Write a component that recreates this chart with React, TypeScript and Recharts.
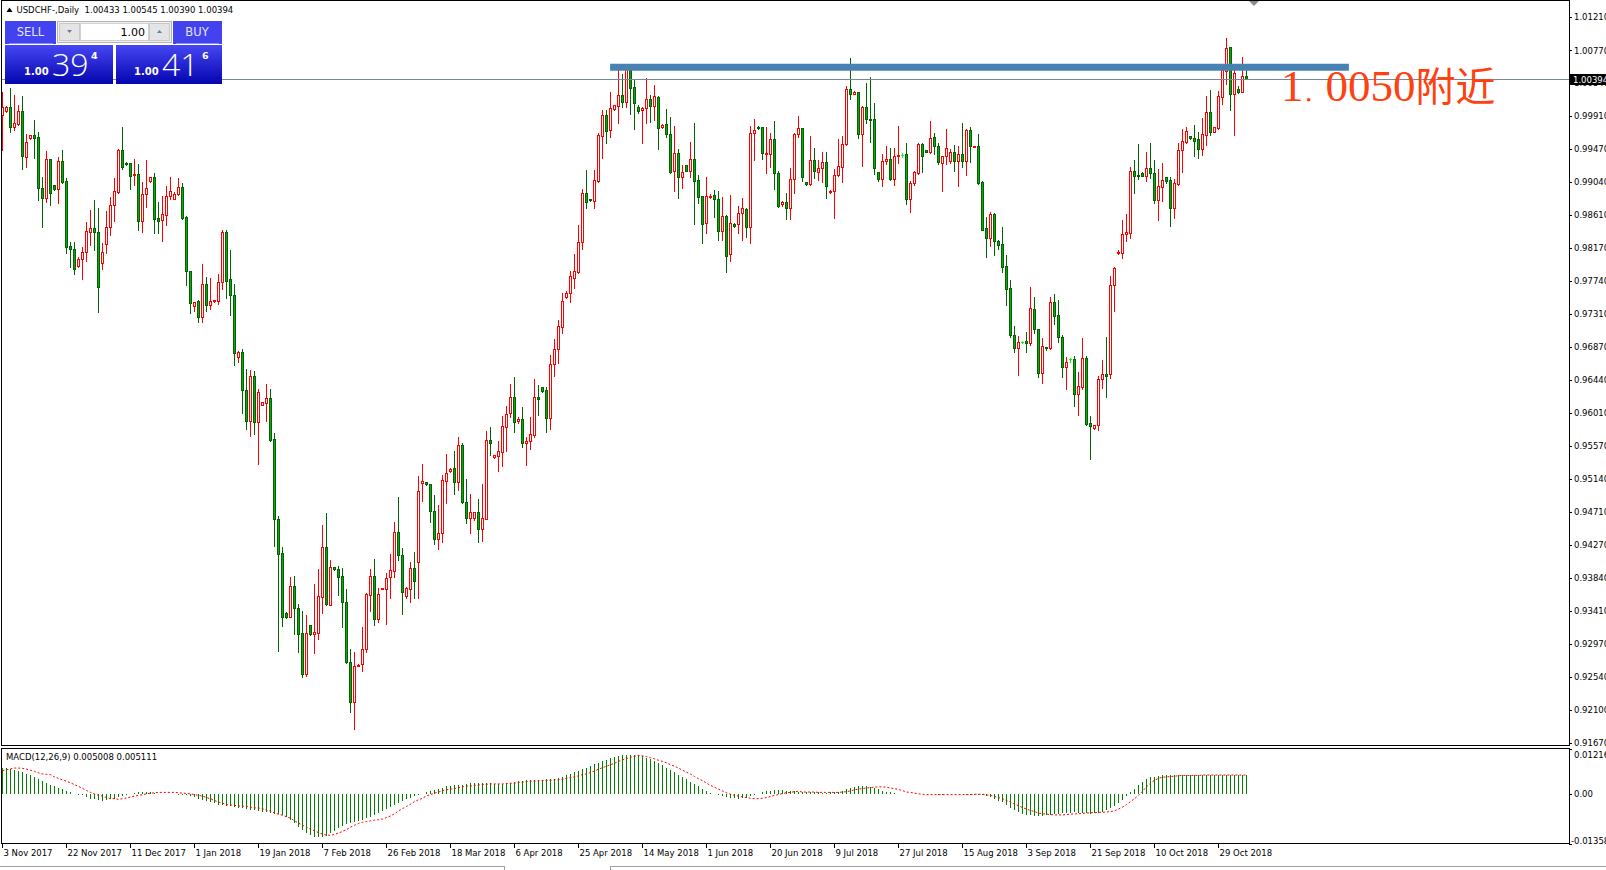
import React from 'react';
import { ComposedChart, Bar, Line, XAxis, YAxis, ReferenceLine } from 'recharts';

// ---- OHLC data (one bar per trading session, 3 Nov 2017 .. 7 Nov 2018) ----
const opens = [
0.99923,0.9998,1.00023,0.99761,0.99804,0.99975,0.99375,0.99625,0.99656,0.99634,
0.98959,0.98836,0.9934,0.98999,0.98946,0.99318,0.99051,0.98197,0.98158,0.97943,
0.98026,0.98118,0.9839,0.98434,0.98381,0.97982,0.98228,0.98447,0.98736,0.98915,
0.99458,0.99288,0.99288,0.9913,0.99143,0.98534,0.98885,0.99055,0.99104,0.98569,
0.98543,0.98613,0.98858,0.98819,0.98889,0.98972,0.98582,0.97868,0.97417,0.97479,
0.97273,0.97696,0.97432,0.97472,0.97481,0.97723,0.98391,0.97764,0.97553,0.96745,
0.96808,0.96311,0.95907,0.96499,0.95885,0.96117,0.96141,0.96203,0.9566,0.94619,
0.94163,0.93373,0.93328,0.93732,0.93449,0.93113,0.92575,0.93217,0.93104,0.93113,
0.93592,0.94244,0.93485,0.93978,0.93956,0.93862,0.93517,0.9274,0.92203,0.92687,
0.92709,0.92912,0.9362,0.93862,0.93306,0.93692,0.93696,0.93854,0.93934,0.9444,
0.94135,0.93607,0.93696,0.93965,0.94055,0.95082,0.95095,0.95073,0.94714,0.94346,
0.94425,0.95117,0.95248,0.95279,0.95104,0.95586,0.94841,0.94631,0.94622,0.94701,
0.94482,0.94613,0.95651,0.95424,0.95441,0.95498,0.95827,0.96002,0.96212,0.95905,
0.95923,0.95608,0.95634,0.95721,0.96212,0.96344,0.96309,0.95936,0.96646,0.96843,
0.97141,0.97531,0.97579,0.97784,0.97863,0.98249,0.98893,0.98814,0.98796,0.99059,
0.9965,0.99922,0.99725,0.99996,1.00045,1.00185,1.00097,1.00544,1.0029,1.00031,
0.99988,1.00009,1.00128,1.00045,1.00154,0.9977,0.99804,0.99668,0.9919,0.99418,
0.99112,0.99261,0.9919,0.99339,0.99068,0.98858,0.98498,0.98849,0.98866,0.98814,
0.98402,0.98595,0.98091,0.98485,0.98485,0.9863,0.98687,0.98455,0.99681,0.99769,
0.9976,0.99405,0.99405,0.99602,0.99155,0.98752,0.98783,0.98696,0.99077,0.99668,
0.99747,0.99042,0.99011,0.9933,0.99177,0.99221,0.993,0.98906,0.98923,0.99129,
0.99243,0.99537,1.00259,1.00198,1.0022,0.99668,1.00023,0.99874,0.99865,0.99173,
0.99085,0.99318,0.9934,0.99085,0.99388,0.99396,0.99405,0.98814,0.99024,0.9916,
0.99541,0.99462,0.9944,0.99633,0.9951,0.99296,0.99388,0.99318,0.99431,0.99322,
0.9941,0.99322,0.99725,0.99506,0.99515,0.99037,0.98433,0.9831,0.98617,0.98271,
0.98223,0.97938,0.97644,0.9703,0.96856,0.96939,0.96952,0.96922,0.97369,0.97106,
0.96528,0.96869,0.96856,0.9746,0.97294,0.97009,0.96615,0.96711,0.96716,0.96252,
0.96344,0.96725,0.95871,0.95805,0.95849,0.96449,0.96519,0.96515,0.97688,0.98104,
0.98113,0.98354,0.98376,0.99186,0.99134,0.99164,0.99125,0.99226,0.99156,0.98805,
0.9898,0.99103,0.99068,0.98696,0.99015,0.99462,0.99572,0.99646,0.99624,0.99602,
0.99471,0.99664,0.99961,0.99703,0.99747,1.00163,1.00505,1.00811,1.00202,1.00264,
1.00229,1.00433];

const highs = [
1.00229,1.0004,1.00273,1.00186,1.00054,1.00172,0.99669,0.9966,0.99857,0.99704,
0.99104,0.9945,0.99345,0.99003,0.99366,0.99463,0.99095,0.98258,0.98258,0.98052,
0.98193,0.98512,0.98674,0.98806,0.98705,0.98236,0.98666,0.9885,0.99099,0.99472,
0.99761,0.99305,0.99292,0.9934,0.99279,0.99042,0.99331,0.99112,0.99156,0.98784,
0.98858,0.9899,0.99104,0.98911,0.99091,0.99025,0.98596,0.97872,0.9747,0.9749,
0.97965,0.97796,0.97786,0.97494,0.97835,0.98414,0.98414,0.9815,0.97701,0.96822,
0.96844,0.9658,0.96566,0.96552,0.96319,0.9615,0.96387,0.96319,0.9575,0.94651,
0.94244,0.9339,0.93848,0.93862,0.93494,0.93404,0.93347,0.93225,0.93763,0.93956,
0.94534,0.94692,0.94073,0.93983,0.93997,0.93974,0.93692,0.92902,0.92866,0.92706,
0.93194,0.93643,0.93956,0.94086,0.93705,0.9371,0.93898,0.94154,0.94579,0.94902,
0.94229,0.93718,0.94055,0.9418,0.95185,0.95336,0.951,0.95078,0.94929,0.94797,
0.95191,0.95467,0.95279,0.95507,0.95686,0.95608,0.95135,0.94942,0.9471,0.94876,
0.95073,0.9577,0.95818,0.95458,0.95638,0.95971,0.96098,0.96387,0.96479,0.95949,
0.96085,0.95686,0.95953,0.96449,0.96374,0.96352,0.96348,0.96768,0.96979,0.97228,
0.97587,0.97614,0.97876,0.98095,0.98476,0.98945,0.99199,0.98818,0.99199,0.9969,
0.99988,0.99988,1.00229,1.00053,1.00548,1.0046,1.00557,1.00557,1.0039,1.00053,
1.00031,1.00404,1.00185,1.00316,1.00172,0.99804,0.99996,0.999,0.99777,0.99471,
0.99265,0.99265,0.99567,0.99812,0.99134,0.98862,0.99107,0.98884,0.98937,0.98928,
0.98849,0.98608,0.98871,0.98498,0.98726,0.98827,0.98705,0.99777,0.99865,0.99777,
0.99764,0.9976,0.99681,0.99843,0.99186,0.98792,0.98893,0.9923,0.9969,0.99909,
0.99755,0.99046,0.99646,0.99484,0.9933,0.99431,0.99431,0.98937,0.99208,0.99602,
0.99646,1.00303,1.00667,1.00242,1.00224,1.0004,1.00347,1.00417,1.00084,0.99177,
0.9941,0.99519,0.99484,0.99484,0.99777,0.99418,0.9955,0.99059,0.99186,0.99558,
0.99558,0.99466,0.99843,0.99681,0.9955,0.99388,0.99738,0.99475,0.99528,0.99515,
0.99812,0.99738,0.9976,0.99519,0.99672,0.99059,0.98586,0.98643,0.9863,0.9828,
0.98446,0.98082,0.97754,0.97149,0.97018,0.96952,0.97066,0.97667,0.97535,0.9711,
0.96988,0.96878,0.97535,0.97566,0.97491,0.97031,0.96738,0.96734,0.96755,0.96549,
0.96996,0.96755,0.95967,0.95849,0.96497,0.96703,0.97009,0.97806,0.97929,0.98148,
0.98542,0.98621,0.99243,0.99331,0.99541,0.99168,0.9944,0.9955,0.99331,0.99213,
0.99287,0.99112,0.99112,0.99077,0.99559,0.99738,0.9976,0.9965,0.9979,0.99703,
0.99878,1.0017,1.00251,0.99768,1.00238,1.00557,1.00929,1.00815,1.00522,1.00303,
1.0068,1.00545];

const lows = [
0.99463,0.99967,0.99704,0.99726,0.99791,0.99209,0.99244,0.99607,0.99353,0.98806,
0.98447,0.98784,0.9874,0.98942,0.98771,0.99025,0.98105,0.9793,0.97833,0.9793,
0.97772,0.98009,0.98215,0.98149,0.97339,0.97899,0.98105,0.98346,0.98534,0.98902,
0.99218,0.99266,0.9895,0.99003,0.98412,0.9839,0.98718,0.99047,0.98377,0.98377,
0.98271,0.98477,0.98815,0.98815,0.98867,0.9856,0.97689,0.97325,0.97352,0.97207,
0.97207,0.97347,0.97374,0.97468,0.97441,0.97634,0.97517,0.97293,0.96643,0.96678,
0.96006,0.95799,0.95705,0.95727,0.95342,0.9611,0.95902,0.95638,0.94257,0.9288,
0.93212,0.93311,0.93326,0.931,0.92866,0.92539,0.92552,0.93091,0.92853,0.93036,
0.93383,0.93481,0.93485,0.93948,0.93615,0.93198,0.92718,0.92081,0.91857,0.92682,
0.92611,0.92866,0.93405,0.93225,0.93262,0.93688,0.93238,0.93571,0.93854,0.94078,
0.93368,0.9358,0.93517,0.93575,0.93571,0.94854,0.95065,0.94578,0.9428,0.94224,
0.94315,0.94828,0.95235,0.94938,0.94994,0.94819,0.94565,0.94434,0.946,0.94315,
0.94329,0.94613,0.95454,0.9542,0.95248,0.9531,0.95511,0.95958,0.95761,0.95871,
0.95564,0.95323,0.95538,0.95686,0.9598,0.96287,0.95761,0.95792,0.96492,0.96659,
0.97062,0.97522,0.9746,0.97653,0.9785,0.98157,0.98704,0.98797,0.98704,0.99046,
0.99352,0.9955,0.99637,0.99992,0.99821,1.00023,1.00023,0.99931,0.99742,0.99952,
0.99558,0.99821,0.99834,0.99856,0.99475,0.99755,0.99637,0.99164,0.98928,0.98836,
0.98962,0.99186,0.99112,0.9849,0.9877,0.98244,0.98376,0.98836,0.98586,0.9828,
0.9828,0.97863,0.98008,0.98455,0.98376,0.9828,0.98323,0.98236,0.99331,0.99738,
0.99348,0.99164,0.99234,0.9895,0.98717,0.98726,0.98551,0.98555,0.98901,0.99637,
0.99059,0.99007,0.99007,0.99099,0.99068,0.99046,0.98827,0.98902,0.98564,0.9912,
0.99042,0.99528,1.00128,1.00194,0.99615,0.99256,0.99821,0.99572,0.99142,0.9906,
0.98993,0.99274,0.99068,0.99002,0.99287,0.99366,0.98753,0.98652,0.99002,0.99147,
0.9917,0.99436,0.99418,0.9941,0.99278,0.98928,0.99278,0.99287,0.9919,0.98989,
0.99234,0.99134,0.99309,0.99501,0.99011,0.98406,0.9806,0.98205,0.98082,0.98157,
0.97864,0.97425,0.97009,0.96812,0.96506,0.96922,0.96812,0.969,0.97062,0.96484,
0.96396,0.96834,0.96852,0.97176,0.96944,0.96484,0.96322,0.96681,0.96098,0.9598,
0.96322,0.95849,0.95402,0.958,0.95783,0.96339,0.96221,0.96471,0.97347,0.981,
0.98047,0.98271,0.98302,0.98902,0.99086,0.9912,0.99059,0.99099,0.98761,0.98542,
0.98797,0.99024,0.98464,0.98564,0.99002,0.99178,0.9955,0.99611,0.99383,0.99357,
0.99397,0.99528,0.99659,0.99699,0.99734,1.00067,1.00329,0.99988,0.99659,1.00207,
1.00225,1.0039];

const closes = [
1.00023,1.00023,0.99761,0.99822,0.99975,0.99388,0.99564,0.99656,0.99625,0.98959,
0.98836,0.9934,0.98893,0.98946,0.99318,0.99038,0.98193,0.98158,0.97895,0.98031,
0.98118,0.98394,0.98434,0.9839,0.97658,0.98118,0.98447,0.9874,0.9892,0.99458,
0.99244,0.99279,0.99126,0.99143,0.98534,0.9888,0.98959,0.99104,0.98552,0.98534,
0.98617,0.98863,0.9892,0.98889,0.98972,0.98574,0.97868,0.97457,0.97461,0.97273,
0.97698,0.97432,0.97472,0.9749,0.97728,0.98391,0.97745,0.97553,0.9679,0.96808,
0.96311,0.95907,0.96499,0.95885,0.96279,0.96145,0.96203,0.95656,0.94615,0.94158,
0.93328,0.93328,0.93732,0.93449,0.93104,0.92575,0.93122,0.931,0.93127,0.93602,
0.94244,0.93494,0.93978,0.93952,0.93854,0.93517,0.92731,0.92203,0.92687,0.927,
0.92912,0.93629,0.93862,0.93306,0.93629,0.93705,0.93844,0.93943,0.9444,0.94135,
0.9366,0.93705,0.93965,0.93803,0.94988,0.95113,0.95069,0.94713,0.94346,0.94425,
0.95126,0.95213,0.95266,0.95104,0.95586,0.94832,0.94631,0.94701,0.94701,0.94482,
0.94622,0.95651,0.95608,0.95454,0.95507,0.95835,0.95993,0.96212,0.95892,0.95923,
0.95608,0.95643,0.9573,0.96212,0.96186,0.96296,0.95936,0.96646,0.96843,0.9715,
0.97478,0.97579,0.97806,0.97872,0.98249,0.98893,0.98783,0.98801,0.99068,0.99655,
0.99922,0.99716,1.0001,1.00049,1.00185,1.00097,1.00544,1.0028,1.00075,0.99979,
1.00018,1.00128,1.00045,1.00172,0.99755,0.99791,0.99668,0.99177,0.99418,0.99112,
0.99173,0.9919,0.99339,0.99059,0.98849,0.98485,0.98858,0.98862,0.98814,0.98402,
0.98595,0.98074,0.98498,0.98468,0.9863,0.98696,0.98446,0.99681,0.99725,0.99747,
0.99418,0.99418,0.99602,0.99155,0.98726,0.98783,0.98696,0.99077,0.99672,0.99747,
0.99112,0.99011,0.9933,0.99186,0.99221,0.993,0.98989,0.98928,0.99129,0.99252,
0.99537,1.00259,1.00194,1.0022,0.99668,1.00023,0.99865,0.99861,0.99221,0.99077,
0.99318,0.99344,0.99085,0.99383,0.99401,0.99396,0.98814,0.99033,0.99173,0.99541,
0.99388,0.9944,0.99624,0.9951,0.99309,0.99383,0.99484,0.99431,0.99322,0.9941,
0.99322,0.99725,0.99519,0.99515,0.99024,0.98411,0.9831,0.98617,0.98271,0.98214,
0.97929,0.97631,0.9703,0.96856,0.96935,0.96939,0.96922,0.97382,0.97106,0.96528,
0.96887,0.96856,0.9746,0.97285,0.97009,0.96615,0.96672,0.96711,0.96252,0.96361,
0.96725,0.95862,0.9584,0.95844,0.96453,0.96515,0.96497,0.97688,0.97907,0.98126,
0.98358,0.98389,0.99186,0.99125,0.9912,0.99125,0.99226,0.99156,0.98805,0.98989,
0.99068,0.99059,0.98696,0.99024,0.99462,0.9958,0.99712,0.99615,0.99585,0.99471,
0.99672,0.99961,0.99694,0.99764,1.00176,1.00513,1.00798,1.00202,1.0047,1.00229,
1.0043,1.00394];

// ---- MACD(12,26,9): main (histogram) and signal ----
const macdMain = [
0.0070,0.0070,0.0068,0.0066,0.0063,0.0060,0.0055,0.0050,0.0045,0.0039,
0.0034,0.0029,0.0024,0.0020,0.0016,0.0012,0.0007,0.0004,0.0001,-0.0002,
-0.0004,-0.0009,-0.0013,-0.0015,-0.0017,-0.0018,-0.0017,-0.0015,-0.0013,-0.0009,
-0.0005,-0.0002,0.0001,0.0003,0.0004,0.0005,0.0004,0.0004,0.0002,0.0001,
0,0,-0.0001,-0.0001,-0.0002,-0.0003,-0.0004,-0.0006,-0.0009,-0.0013,
-0.0016,-0.0020,-0.0023,-0.0026,-0.0029,-0.0030,-0.0032,-0.0034,-0.0036,-0.0038,
-0.0039,-0.0041,-0.0043,-0.0045,-0.0046,-0.0048,-0.0050,-0.0052,-0.0054,-0.0055,
-0.0057,-0.0063,-0.0071,-0.0080,-0.0089,-0.0098,-0.0105,-0.0112,-0.0116,-0.0118,
-0.0116,-0.0113,-0.0107,-0.0100,-0.0093,-0.0087,-0.0082,-0.0079,-0.0076,-0.0073,
-0.0070,-0.0066,-0.0063,-0.0057,-0.0052,-0.0046,-0.0041,-0.0036,-0.0030,-0.0025,
-0.0020,-0.0015,-0.0011,-0.0007,-0.0004,0,0.0004,0.0007,0.0011,0.0014,
0.0017,0.0020,0.0021,0.0023,0.0024,0.0025,0.0027,0.0029,0.0029,0.0030,
0.0030,0.0029,0.0029,0.0027,0.0026,0.0027,0.0029,0.0030,0.0032,0.0034,
0.0036,0.0037,0.0038,0.0038,0.0038,0.0038,0.0039,0.0040,0.0041,0.0043,
0.0046,0.0050,0.0054,0.0058,0.0063,0.0067,0.0071,0.0076,0.0080,0.0085,
0.0089,0.0093,0.0096,0.0099,0.0102,0.0104,0.0104,0.0105,0.0105,0.0104,
0.0102,0.0098,0.0094,0.0088,0.0083,0.0077,0.0071,0.0064,0.0058,0.0052,
0.0046,0.0039,0.0033,0.0027,0.0021,0.0014,0.0008,0.0003,-0.0001,-0.0004,
-0.0006,-0.0009,-0.0011,-0.0012,-0.0013,-0.0012,-0.0010,-0.0007,-0.0004,0,
0.0004,0.0007,0.0009,0.0010,0.0011,0.0010,0.0009,0.0008,0.0007,0.0006,
0.0005,0.0004,0.0004,0.0004,0.0004,0.0003,0.0003,0.0004,0.0004,0.0005,
0.0008,0.0012,0.0015,0.0018,0.0020,0.0021,0.0021,0.0019,0.0016,0.0013,
0.0009,0.0005,0.0004,0.0002,0.0001,0,-0.0001,-0.0001,-0.0001,-0.0001,
-0.0001,-0.0001,-0.0001,-0.0001,-0.0002,-0.0002,-0.0001,-0.0001,-0.0001,0,
-0.0001,-0.0002,-0.0002,-0.0002,-0.0003,-0.0004,-0.0006,-0.0009,-0.0013,-0.0018,
-0.0023,-0.0030,-0.0038,-0.0044,-0.0049,-0.0054,-0.0056,-0.0058,-0.0059,-0.0059,
-0.0059,-0.0058,-0.0057,-0.0055,-0.0054,-0.0052,-0.0051,-0.0051,-0.0050,-0.0051,
-0.0052,-0.0053,-0.0054,-0.0053,-0.0051,-0.0048,-0.0045,-0.0039,-0.0032,-0.0025,
-0.0016,-0.0006,0.0004,0.0013,0.0023,0.0032,0.0039,0.0045,0.0047,0.0049,
0.0050,0.0050,0.0051,0.0051,0.0051,0.0051,0.0051,0.0051,0.0051,0.0051,
0.0051,0.0051,0.0051,0.0050,0.0050,0.0051,0.0051,0.0050,0.0050,0.0050,
0.0050,0.0050];

const macdSignal = [
0.0063,0.0065,0.0068,0.0070,0.0070,0.0069,0.0067,0.0064,0.0061,0.0057,
0.0054,0.0053,0.0052,0.0046,0.0042,0.0038,0.0034,0.0030,0.0025,0.0020,
0.0015,0.0009,0.0004,0,-0.0004,-0.0006,-0.0010,-0.0013,-0.0013,-0.0015,
-0.0013,-0.0011,-0.0009,-0.0006,-0.0004,-0.0002,0,0.0002,0.0003,0.0004,
0.0004,0.0004,0.0004,0.0004,0.0003,0.0002,0.0001,0,-0.0002,-0.0004,
-0.0006,-0.0010,-0.0013,-0.0018,-0.0022,-0.0025,-0.0029,-0.0030,-0.0031,-0.0033,
-0.0033,-0.0034,-0.0036,-0.0038,-0.0038,-0.0040,-0.0044,-0.0047,-0.0052,-0.0055,
-0.0058,-0.0062,-0.0066,-0.0073,-0.0079,-0.0085,-0.0090,-0.0096,-0.0100,-0.0105,
-0.0109,-0.0112,-0.0112,-0.0110,-0.0106,-0.0102,-0.0097,-0.0090,-0.0085,-0.0080,
-0.0077,-0.0075,-0.0073,-0.0071,-0.0070,-0.0068,-0.0064,-0.0060,-0.0054,-0.0046,
-0.0040,-0.0034,-0.0028,-0.0021,-0.0016,-0.0012,-0.0005,-0.0002,0.0002,0.0005,
0.0008,0.0011,0.0013,0.0014,0.0017,0.0019,0.0021,0.0021,0.0023,0.0024,
0.0025,0.0026,0.0027,0.0027,0.0027,0.0027,0.0028,0.0029,0.0029,0.0031,
0.0032,0.0033,0.0034,0.0035,0.0035,0.0036,0.0036,0.0037,0.0038,0.0038,
0.0040,0.0042,0.0044,0.0046,0.0049,0.0052,0.0054,0.0058,0.0062,0.0067,
0.0071,0.0075,0.0079,0.0083,0.0088,0.0092,0.0096,0.0099,0.0102,0.0104,
0.0103,0.0101,0.0098,0.0095,0.0091,0.0088,0.0084,0.0079,0.0075,0.0070,
0.0064,0.0059,0.0054,0.0047,0.0041,0.0036,0.0029,0.0023,0.0018,0.0013,
0.0008,0.0003,-0.0001,-0.0004,-0.0006,-0.0008,-0.0010,-0.0012,-0.0013,-0.0013,
-0.0012,-0.0010,-0.0007,-0.0004,-0.0002,0.0001,0.0003,0.0004,0.0006,0.0007,
0.0005,0.0005,0.0005,0.0005,0.0004,0.0004,0.0004,0.0004,0.0004,0.0004,
0.0005,0.0006,0.0008,0.0011,0.0013,0.0014,0.0016,0.0017,0.0018,0.0019,
0.0019,0.0018,0.0016,0.0014,0.0012,0.0009,0.0005,0.0004,0.0002,0,
-0.0001,-0.0002,-0.0002,-0.0002,-0.0002,-0.0002,-0.0002,-0.0002,-0.0002,-0.0002,
-0.0002,-0.0002,-0.0002,-0.0001,-0.0001,-0.0001,-0.0003,-0.0004,-0.0007,-0.0010,
-0.0013,-0.0018,-0.0022,-0.0028,-0.0032,-0.0037,-0.0041,-0.0045,-0.0048,-0.0052,
-0.0054,-0.0055,-0.0056,-0.0057,-0.0057,-0.0057,-0.0056,-0.0055,-0.0054,-0.0054,
-0.0053,-0.0052,-0.0051,-0.0051,-0.0050,-0.0050,-0.0049,-0.0048,-0.0046,-0.0041,
-0.0036,-0.0029,-0.0021,-0.0013,-0.0004,0.0007,0.0019,0.0029,0.0037,0.0042,
0.0045,0.0046,0.0047,0.0048,0.0049,0.0050,0.0050,0.0050,0.0050,0.0050,
0.0051,0.0051,0.0051,0.0051,0.0051,0.0051,0.0051,0.0051,0.0051,0.0051,
0.0051,0.0051];

// ---- axis labels ----
const dateTickBars = [0, 16, 32, 48, 64, 80, 96, 112, 128, 144, 160, 176, 192, 208, 224, 240, 256, 272, 288, 304];
const dateLabels = ['3 Nov 2017', '22 Nov 2017', '11 Dec 2017', '1 Jan 2018', '19 Jan 2018', '7 Feb 2018', '26 Feb 2018',
  '18 Mar 2018', '6 Apr 2018', '25 Apr 2018', '14 May 2018', '1 Jun 2018', '20 Jun 2018', '9 Jul 2018', '27 Jul 2018',
  '15 Aug 2018', '3 Sep 2018', '21 Sep 2018', '10 Oct 2018', '29 Oct 2018'];
const priceTicks = [1.0121, 1.0077, 1.0034, 0.9991, 0.9947, 0.9904, 0.9861, 0.9817, 0.9774, 0.9731, 0.9687, 0.9644,
  0.9601, 0.9557, 0.9514, 0.9471, 0.9427, 0.9384, 0.9341, 0.9297, 0.9254, 0.921, 0.9167];
const macdTicks = [0.01216, 0, -0.01358];
const priceDomain = [0.91631, 1.01433];
const macdDomain = [-0.01358, 0.01216];
const barDomain = [-0.375, 391.625];
const currentPrice = 1.00394;
const trendPrice = [1.0055, 1.0055];
const trendBars = [151.9, 336.6];
const headerOHLC = ['1.00433', '1.00545', '1.00390', '1.00394'];
const macdHeader = ['0.005008', '0.005111'];

const rows = opens.map((o, i) => ({
  i,
  o,
  h: highs[i],
  l: lows[i],
  c: closes[i],
  range: [lows[i], highs[i]],
  macd: macdMain[i],
  signal: macdSignal[i],
}));

const AXIS_FONT = "'DejaVu Sans', Verdana, sans-serif";
const BULL = '#ff0000';
const BEAR = '#006400';
const BEAR_FILL = '#16a016';

const Candle = (props: any) => {
  const { x, y, width, height, payload } = props;
  if (x == null || y == null || !payload) return null;
  const cx = Math.round(x + width / 2 - 0.5) + 0.5;
  const top = Math.min(y, y + height);
  const bot = Math.max(y, y + height);
  const { o, h, l, c } = payload;
  const span = h - l || 1e-9;
  const py = (v: number) => top + ((h - v) / span) * (bot - top);
  const yo = py(o);
  const yc = py(c);
  const bull = c > o;
  const doji = c === o;
  const stroke = doji ? '#00ff00' : bull ? BULL : BEAR;
  const bt = Math.round(Math.min(yo, yc)) + 0.5;
  const bb = Math.round(Math.max(yo, yc)) + 0.5;
  return (
    <g shapeRendering="crispEdges">
      <line x1={cx} x2={cx} y1={Math.round(top)} y2={Math.round(bot) + 1} stroke={stroke} strokeWidth={1} />
      {bb - bt >= 1 ? (
        <rect x={cx - 1} y={bt} width={2} height={bb - bt} fill={bull ? '#ffffff' : BEAR_FILL} stroke={stroke} strokeWidth={1} />
      ) : (
        <line x1={cx - 1.5} x2={cx + 1.5} y1={bt} y2={bt} stroke={stroke} strokeWidth={1} />
      )}
    </g>
  );
};

const Hist = (props: any) => {
  const { x, y, width, height } = props;
  if (x == null || y == null) return null;
  const cx = Math.round(x + width / 2 - 0.5) + 0.5;
  const t = Math.min(y, y + height);
  const b = Math.max(y, y + height);
  if (b - t < 0.4) return null;
  return <line x1={cx} x2={cx} y1={t} y2={b} stroke="#008000" strokeWidth={1} shapeRendering="crispEdges" />;
};

const PriceTick = (p: any) => {
  const { x, y, payload } = p;
  const yy = Math.round(y) + 0.5;
  return (
    <g>
      <line x1={x} x2={x + 3} y1={yy} y2={yy} stroke="#000" strokeWidth={1} shapeRendering="crispEdges" />
      <text x={x + 5} y={y} dy={3.1} fontSize={8.5} fontFamily={AXIS_FONT} fill="#000">
        {Number(payload.value).toFixed(5)}
      </text>
    </g>
  );
};

const MacdTick = (p: any) => {
  const { x, y, payload, index } = p;
  const v = Number(payload.value);
  const ly = index === 0 ? y + 6 : index === macdTicks.length - 1 ? y - 3 : y;
  const yy = Math.round(y) + 0.5;
  return (
    <g>
      <line x1={x} x2={x + 3} y1={yy} y2={yy} stroke="#000" strokeWidth={1} shapeRendering="crispEdges" />
      <text x={v < 0 ? x + 2 : x + 5} y={ly} dy={3.1} fontSize={8.5} fontFamily={AXIS_FONT} fill="#000">
        {v === 0 ? '0.00' : v.toFixed(5)}
      </text>
    </g>
  );
};

const DateTick = (p: any) => {
  const { x, y, payload } = p;
  const k = dateTickBars.indexOf(Number(payload.value));
  const xx = Math.round(x - 0.5) + 0.5;
  return (
    <g>
      <line x1={xx} x2={xx} y1={y} y2={y + 4} stroke="#000" strokeWidth={1} shapeRendering="crispEdges" />
      <text x={xx + 1} y={y + 12} fontSize={8.5} fontFamily={AXIS_FONT} fill="#000">
        {k >= 0 ? dateLabels[k] : ''}
      </text>
    </g>
  );
};

const Overlay = () => (
  <svg width={1606} height={870} style={{ position: 'absolute', left: 0, top: 0, pointerEvents: 'none' }}>
    <defs>
      <linearGradient id="pbox" x1="0" y1="0" x2="0" y2="1">
        <stop offset="0" stopColor="#4646f2" />
        <stop offset="1" stopColor="#0505b0" />
      </linearGradient>
    </defs>
    {/* panel frames */}
    <rect x={1.5} y={0.5} width={1568} height={745} fill="none" stroke="#000" strokeWidth={1} shapeRendering="crispEdges" />
    <rect x={1.5} y={748.5} width={1568} height={95} fill="none" stroke="#000" strokeWidth={1} shapeRendering="crispEdges" />
    {/* chart shift marker */}
    <polygon points="1249,1 1259,1 1254,6" fill="#8c8c8c" />
    {/* header */}
    <polygon points="6.5,12 12.5,12 9.5,7.5" fill="#000" />
    <text x={16.5} y={12.5} fontSize={8.5} fontFamily={AXIS_FONT} fill="#000" style={{ whiteSpace: 'pre' }}>
      {'USDCHF-,Daily  ' + headerOHLC.join(' ')}
    </text>
    {/* one click trading panel */}
    <rect x={5} y={21} width={51} height={23} fill="#4242ee" />
    <line x1={9} x2={53} y1={43.5} y2={43.5} stroke="#8a8aff" strokeWidth={1} />
    <text x={30.5} y={35.5} textAnchor="middle" fontSize={11.5} fontFamily={AXIS_FONT} fill="#e4e4ff">SELL</text>
    <rect x={57.5} y={21.5} width={114} height={21} fill="#f0f0f0" stroke="#b4b4b4" strokeWidth={1} />
    <rect x={59.5} y={23.5} width={20} height={17} fill="#e4e4e4" stroke="#c8c8c8" strokeWidth={1} />
    <rect x={80.5} y={23.5} width={68} height={17} fill="#ffffff" stroke="#d0d0d0" strokeWidth={1} />
    <rect x={149.5} y={23.5} width={20} height={17} fill="#e4e4e4" stroke="#c8c8c8" strokeWidth={1} />
    <polygon points="67,30 72,30 69.5,33" fill="#6a78a8" />
    <polygon points="157,33 162,33 159.5,30" fill="#6a78a8" />
    <text x={145} y={35.5} textAnchor="end" fontSize={11} fontFamily={AXIS_FONT} fill="#000">1.00</text>
    <rect x={173} y={21} width={49} height={23} fill="#4242ee" />
    <line x1={176} x2={219} y1={43.5} y2={43.5} stroke="#8a8aff" strokeWidth={1} />
    <text x={197} y={35.5} textAnchor="middle" fontSize={11.5} fontFamily={AXIS_FONT} fill="#e4e4ff">BUY</text>
    <rect x={5} y={45} width={108} height={39} fill="url(#pbox)" />
    <rect x={116} y={45} width={106} height={39} fill="url(#pbox)" />
    <text x={24} y={75} fontSize={10} fontWeight="bold" fontFamily={AXIS_FONT} fill="#ffffff">1.00</text>
    <text x={52} y={76} fontSize={32} fontFamily="'Open Sans', 'DejaVu Sans', sans-serif" fontWeight={300} fill="#ffffff">39</text>
    <text x={91} y={59} fontSize={9.5} fontWeight="bold" fontFamily={AXIS_FONT} fill="#ffffff">4</text>
    <text x={134} y={75} fontSize={10} fontWeight="bold" fontFamily={AXIS_FONT} fill="#ffffff">1.00</text>
    <text x={162} y={76} fontSize={32} fontFamily="'Open Sans', 'DejaVu Sans', sans-serif" fontWeight={300} fill="#ffffff">41</text>
    <text x={202} y={59} fontSize={9.5} fontWeight="bold" fontFamily={AXIS_FONT} fill="#ffffff">6</text>
    {/* current price label */}
    <rect x={1570} y={74} width={36} height={11} fill="#000" />
    <text x={1573} y={79.5} dy={3.1} fontSize={8.5} fontFamily={AXIS_FONT} fill="#ffffff">{currentPrice.toFixed(5)}</text>
    {/* annotation */}
    <text x={1281} y={101} fill="#ff4010">
      <tspan fontFamily="'Liberation Serif', 'DejaVu Serif', serif" fontSize={45}>1</tspan>
      <tspan fontFamily="'Noto Sans CJK SC', sans-serif" fontSize={22}>．</tspan>
      <tspan fontFamily="'Liberation Serif', 'DejaVu Serif', serif" fontSize={45}>0050</tspan>
      <tspan fontFamily="'Noto Sans CJK SC', sans-serif" fontSize={40}>附近</tspan>
    </text>
    {/* MACD label */}
    <text x={6} y={760} fontSize={8.5} fontFamily={AXIS_FONT} fill="#000">
      {'MACD(12,26,9) ' + macdHeader.join(' ')}
    </text>
    {/* bottom tab strip */}
    <line x1={0} x2={504} y1={866.5} y2={866.5} stroke="#a0a0a0" strokeWidth={1} />
    <line x1={611} x2={1606} y1={866.5} y2={866.5} stroke="#a0a0a0" strokeWidth={1} />
    <line x1={504.5} x2={504.5} y1={866} y2={870} stroke="#a0a0a0" strokeWidth={1} />
    <line x1={610.5} x2={610.5} y1={866} y2={870} stroke="#a0a0a0" strokeWidth={1} />
  </svg>
);

export default function App() {
  return (
    <div style={{ position: 'absolute', left: 0, top: 0, width: 1606, height: 870, background: '#ffffff', overflow: 'hidden' }}>
      <div style={{ position: 'absolute', left: 0, top: 0 }}>
        <ComposedChart width={1606} height={746} data={rows} margin={{ top: 0, right: 0, bottom: 0, left: 1 }}>
          <XAxis dataKey="i" type="number" domain={barDomain} allowDataOverflow hide />
          <YAxis
            type="number"
            orientation="right"
            domain={priceDomain}
            allowDataOverflow
            ticks={priceTicks}
            interval={0}
            width={37}
            tickSize={0}
            tickMargin={0}
            axisLine={false}
            tickLine={false}
            tick={(p: any) => <PriceTick {...p} />}
          />
          <ReferenceLine y={currentPrice} stroke="#778899" strokeWidth={1} shapeRendering="crispEdges" />
          <Bar dataKey="range" barSize={3} isAnimationActive={false} shape={(p: any) => <Candle {...p} />} />
          <ReferenceLine
            segment={[{ x: trendBars[0], y: trendPrice[0] }, { x: trendBars[1], y: trendPrice[1] }]}
            stroke="#4682b4"
            strokeWidth={7}
          />
        </ComposedChart>
      </div>
      <div style={{ position: 'absolute', left: 0, top: 748 }}>
        <ComposedChart width={1606} height={122} data={rows} margin={{ top: 1, right: 0, bottom: 0, left: 1 }}>
          <XAxis
            dataKey="i"
            type="number"
            domain={barDomain}
            allowDataOverflow
            ticks={dateTickBars}
            interval={0}
            height={26}
            tickSize={0}
            tickMargin={0}
            axisLine={false}
            tickLine={false}
            tick={(p: any) => <DateTick {...p} />}
          />
          <YAxis
            type="number"
            orientation="right"
            domain={macdDomain}
            allowDataOverflow
            ticks={macdTicks}
            interval={0}
            width={37}
            tickSize={0}
            tickMargin={0}
            axisLine={false}
            tickLine={false}
            tick={(p: any) => <MacdTick {...p} />}
          />
          <Bar dataKey="macd" barSize={1} isAnimationActive={false} shape={(p: any) => <Hist {...p} />} />
          <Line dataKey="signal" type="linear" stroke="#ff0000" strokeWidth={1} strokeDasharray="2 2" dot={false} activeDot={false} isAnimationActive={false} />
        </ComposedChart>
      </div>
      <Overlay />
    </div>
  );
}
